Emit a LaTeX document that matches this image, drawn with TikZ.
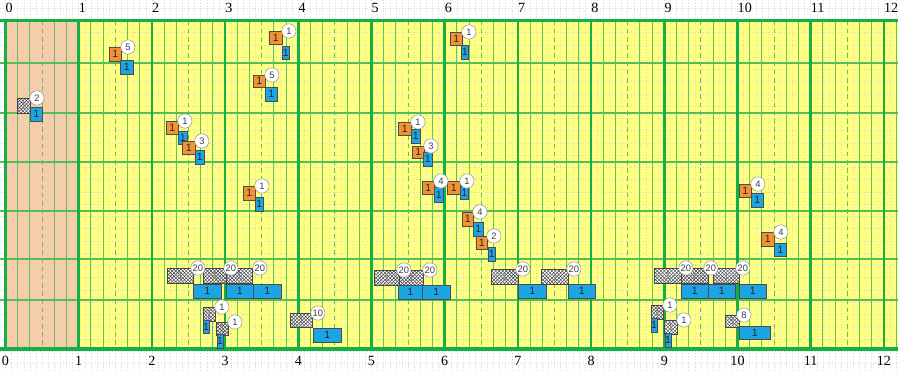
\documentclass[tikz,border=0pt]{standalone}
\usepackage{fontspec}
\setmainfont{Liberation Serif}
\newfontfamily\boxfont{Liberation Sans}
\usetikzlibrary{positioning, patterns}
\definecolor{chartyellow}{RGB}{255,255,128}
\definecolor{chartpeach}{RGB}{248,204,168}
\definecolor{gridgreen}{RGB}{20,175,70}
\definecolor{thingreen}{RGB}{95,195,95}
\definecolor{taskorange}{RGB}{242,146,52}
\definecolor{taskblue}{RGB}{27,165,228}
\tikzset{
    task/.style={draw=black!70, anchor=north west, inner sep=0pt, font=\boxfont\fontsize{9}{10}\selectfont, text=black!85},
    obox/.style={task, fill=taskorange}, % attesa
    bbox/.style={task, fill=taskblue}, % esecuzione
    xbox/.style={task, fill=white, text=black!50, postaction={pattern=crosshatch, pattern color=black!75}},
    wd/.style={minimum width=#1*0.03cm},
    ht/.style={minimum height=#1*0.03cm},
    num/.style={circle, draw=black!45, fill=white, inner sep=0pt, minimum size=0.43cm, font=\boxfont\fontsize{8}{9}\selectfont, text=black!75},
    tick/.style={inner sep=0pt, font=\fontsize{12}{14}\selectfont},
    dotgrid/.style={black!16, dotted, line width=0.45pt},
    minorline/.style={thingreen, line width=0.85pt},
    halfline/.style={thingreen, line width=0.85pt, dash pattern=on 4pt off 3pt},
    rowline/.style={thingreen!80!gridgreen, line width=1.2pt},
    majorline/.style={gridgreen, line width=2.1pt},
    frameline/.style={gridgreen, line width=2.6pt},
}

\begin{document}
\begin{tikzpicture}[x=0.03cm, y=-0.03cm]
    \useasboundingbox (0,0) rectangle (898,373);
    % Sfondo
    \fill[white] (0,0) rectangle (898,373);
    \fill[chartyellow] (5.5,20.5) rectangle (898,349);
    \fill[chartpeach] (5.5,20.5) rectangle (78.7,349);
    \foreach \k in {0,...,146}
        \draw[dotgrid] ({5.5+73.2*\k/12},0) -- ++(0,373);
    \foreach \k in {-1,...,29}
        \draw[dotgrid] (0,{20.5+12.25*\k}) -- ++(898,0);

    % Griglia
    \foreach \t in {0,...,12} {
        \foreach \k in {1,2,4,5}
            \draw[minorline] ({5.5+73.2*(\t+\k/6)},20.5) -- ++(0,328.5);
        \draw[halfline] ({5.5+73.2*(\t+0.5)},20.5) -- ++(0,328.5);
    }
    \foreach \y in {63,113,162,211,259,300}
        \draw[rowline] (0,\y) -- (898,\y);
    \foreach \t in {0,...,12}
        \draw[majorline] ({5.5+73.2*\t},20.5) -- ++(0,328.5);
    \draw[frameline] (0,20.5) -- (898,20.5);
    \draw[frameline] (0,349) -- (898,349);

    % Scala
    \foreach \t in {0,...,12} {
        \node[tick, anchor=west] (t\t) at ({5.5+73.2*\t},8) {\t};
        \node[tick] (u\t) at ({5.5+73.2*\t},361) {\t};
    }

    % Attivita
    \node[xbox, wd=13, ht=15] (x1) at (17,98) {1};
    \node[bbox, wd=12, ht=14] (b1) at (30,107) {1};
    \node[obox, wd=12, ht=14] (o1) at (109,47) {1};
    \node[bbox, wd=13, ht=14] (b2) at (120,60) {1};
    \node[obox, wd=13, ht=13] (o2) at (269,31) {1};
    \node[bbox, wd=7, ht=13] (b3) at (282,46) {1};
    \node[obox, wd=12, ht=12] (o3) at (253,75) {1};
    \node[bbox, wd=12, ht=14] (b4) at (265,87) {1};
    \node[obox, wd=12, ht=13] (o4) at (166,121) {1};
    \node[bbox, wd=9, ht=13] (b5) at (178,131) {1};
    \node[obox, wd=13, ht=13] (o5) at (182,141) {1};
    \node[bbox, wd=9, ht=14] (b6) at (195,150) {1};
    \node[obox, wd=12, ht=14] (o6) at (243,186) {1};
    \node[bbox, wd=8, ht=14] (b7) at (255,197) {1};

    \node[xbox, wd=26, ht=15] (x2) at (167,268) {1};
    \node[xbox, wd=23, ht=15] (x3) at (203,268) {1};
    \node[xbox, wd=26, ht=15] (x4) at (226,268) {1};
    \node[bbox, wd=28, ht=14] (b8) at (193,284) {1};
    \node[bbox, wd=27, ht=14] (b9) at (226,284) {1};
    \node[bbox, wd=28, ht=14] (b10) at (253,284) {1};
    \node[xbox, wd=12, ht=14] (x5) at (203,307) {1};
    \node[bbox, wd=5, ht=13] (b11) at (203,320) {1};
    \node[xbox, wd=12, ht=13] (x6) at (216,322) {1};
    \node[bbox, wd=5, ht=14] (b12) at (217,334) {1};
    \node[xbox, wd=22, ht=14] (x7) at (290,313) {1};
    \node[bbox, wd=28, ht=14] (b13) at (313,328) {1};

    \node[xbox, wd=25, ht=15] (x8) at (374,270) {1};
    \node[xbox, wd=24, ht=15] (x9) at (399,270) {1};
    \node[bbox, wd=24, ht=14] (b14) at (398,285) {1};
    \node[bbox, wd=28, ht=14] (b15) at (422,285) {1};
    \node[xbox, wd=27, ht=15] (x10) at (491,269) {1};
    \node[bbox, wd=28, ht=14] (b16) at (518,284) {1};
    \node[xbox, wd=27, ht=15] (x11) at (541,269) {1};
    \node[bbox, wd=27, ht=14] (b17) at (568,284) {1};

    \node[obox, wd=12, ht=13] (o7) at (450,32) {1};
    \node[bbox, wd=7, ht=14] (b18) at (461,45) {1};
    \node[obox, wd=13, ht=13] (o8) at (398,122) {1};
    \node[bbox, wd=9, ht=14] (b19) at (411,129) {1};
    \node[obox, wd=12, ht=12] (o9) at (412,146) {1};
    \node[bbox, wd=9, ht=14] (b20) at (423,152) {1};
    \node[obox, wd=12, ht=13] (o10) at (422,181) {1};
    \node[bbox, wd=9, ht=15] (b21) at (434,187) {1};
    \node[obox, wd=13, ht=13] (o11) at (447,181) {1};
    \node[bbox, wd=8, ht=13] (b22) at (460,186) {1};
    \node[obox, wd=11, ht=14] (o12) at (462,212) {1};
    \node[bbox, wd=10, ht=14] (b23) at (473,222) {1};
    \node[obox, wd=11, ht=13] (o13) at (476,236) {1};
    \node[bbox, wd=7, ht=14] (b24) at (488,247) {1};

    \node[obox, wd=12, ht=13] (o14) at (739,184) {1};
    \node[bbox, wd=12, ht=14] (b25) at (751,193) {1};
    \node[obox, wd=13, ht=14] (o15) at (761,232) {1};
    \node[bbox, wd=12, ht=13] (b26) at (774,243) {1};

    \node[xbox, wd=27, ht=15] (x12) at (654,268) {1};
    \node[xbox, wd=27, ht=15] (x13) at (681,268) {1};
    \node[xbox, wd=26, ht=15] (x14) at (713,268) {1};
    \node[bbox, wd=27, ht=14] (b27) at (681,284) {1};
    \node[bbox, wd=27, ht=14] (b28) at (708,284) {1};
    \node[bbox, wd=27, ht=14] (b29) at (739,284) {1};
    \node[xbox, wd=12, ht=14] (x15) at (651,305) {1};
    \node[bbox, wd=5, ht=14] (b30) at (651,318) {1};
    \node[xbox, wd=13, ht=14] (x16) at (664,320) {1};
    \node[bbox, wd=5, ht=14] (b31) at (665,333) {1};
    \node[xbox, wd=14, ht=12] (x17) at (725,315) {1};
    \node[bbox, wd=31, ht=13] (b32) at (739,326) {1};

    % Contatori
    \node[num, right=-0.03cm of x1.north east] (c1) {2};
    \node[num, right=-0.03cm of o1.north east] (c2) {5};
    \node[num, right=-0.03cm of o2.north east] (c3) {1};
    \node[num, right=-0.03cm of o3.north east] (c4) {5};
    \node[num, right=-0.03cm of o4.north east] (c5) {1};
    \node[num, right=-0.03cm of o5.north east] (c6) {3};
    \node[num, right=-0.03cm of o6.north east] (c7) {1};
    \node[num, right=-0.09cm of x2.north east] (c8) {20};
    \node[num, right=-0.09cm of x3.north east] (c9) {20};
    \node[num, right=0cm of x4.north east] (c10) {20};
    \node[num, right=-0.03cm of x5.north east] (c11) {1};
    \node[num, right=-0.03cm of x6.north east] (c12) {1};
    \node[num, right=-0.06cm of x7.north east] (c13) {10};
    \node[num, right=-0.09cm of x8.north east] (c14) {20};
    \node[num, right=-0.03cm of x9.north east] (c15) {20};
    \node[num, right=-0.09cm of x10.north east] (c16) {20};
    \node[num, right=-0.06cm of x11.north east] (c17) {20};
    \node[num, right=-0.03cm of o7.north east] (c18) {1};
    \node[num, right=-0.03cm of o8.north east] (c19) {1};
    \node[num, right=-0.03cm of o9.north east] (c20) {3};
    \node[num, right=-0.03cm of o10.north east] (c21) {4};
    \node[num, right=-0.03cm of o11.north east] (c22) {1};
    \node[num, right=-0.03cm of o12.north east] (c23) {4};
    \node[num, right=-0.03cm of o13.north east] (c24) {2};
    \node[num, right=-0.03cm of o14.north east] (c25) {4};
    \node[num, right=-0.03cm of o15.north east] (c26) {4};
    \node[num, right=-0.09cm of x12.north east] (c27) {20};
    \node[num, right=-0.15cm of x13.north east] (c28) {20};
    \node[num, right=-0.12cm of x14.north east] (c29) {20};
    \node[num, right=-0.03cm of x15.north east] (c30) {1};
    \node[num, right=-0.03cm of x16.north east] (c31) {1};
    \node[num, right=-0.09cm of x17.north east] (c32) {8};
\end{tikzpicture}
\end{document}
